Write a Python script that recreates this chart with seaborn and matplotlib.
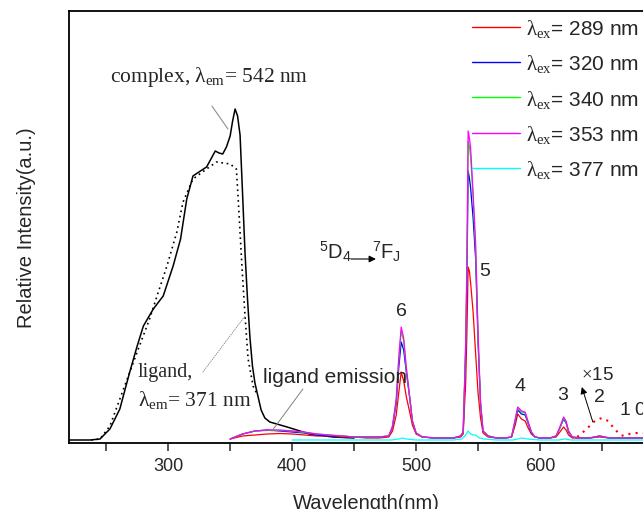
import matplotlib
matplotlib.use('Agg')
import matplotlib.pyplot as plt
import seaborn as sns
import pandas as pd
from matplotlib.ticker import MultipleLocator
from matplotlib.lines import Line2D

# ---------------- data ----------------
# excitation spectra
ex_wl = [220, 230, 237, 245, 253, 261, 269, 275, 280, 288, 296, 304, 310, 315, 320, 326,
         331, 338, 341, 344, 347, 350, 352, 354, 356, 358, 360, 362, 364, 366, 368, 370,
         372, 375, 378, 382, 396, 414, 433, 450]
ex_complex = [3, 3, 3, 4, 14, 34, 71, 97, 117, 134, 147, 177, 204, 244, 267, 272,
              276, 292, 290, 289, 296, 307, 322, 334, 327, 308, 250, 190, 144, 105, 77, 60,
              49, 33, 25, 21, 16, 9, 6, 5]

lig_wl = [238, 245, 253, 264, 275, 285, 291, 299, 307, 312, 320, 331, 339, 350, 355,
          356.5, 359.5, 362, 364.5, 368.5, 372]
lig_ex = [3, 4, 17, 54, 91, 124, 147, 177, 211, 241, 264, 274, 281, 279, 274,
          244, 177, 127, 84, 57, 48]

# emission spectra
em_wl = [350, 360, 370, 380, 390, 400, 410, 420, 430, 440, 450, 460, 470, 478, 481, 484,
         486, 488, 490, 492, 495, 497, 500, 505, 515, 530, 536, 538, 540, 541, 542, 543,
         544, 546, 548, 550, 552, 554, 558, 565, 572, 577, 580, 582, 585, 588, 590, 593,
         596, 600, 608, 613, 616, 619, 621, 623, 626, 632, 640, 648, 656, 665, 680, 700]
em_289 = [4, 7, 8, 9, 9.5, 9, 8, 7, 7, 6, 6, 5, 5, 6, 12, 28,
          50, 71, 62, 47, 30, 18, 9, 6, 5, 5, 6, 9, 60, 110, 176, 172,
          160, 131, 90, 50, 25, 10, 6, 5, 5, 6, 18, 29, 24, 22, 16, 9,
          6, 5, 5, 6, 11, 16, 13, 8, 5, 5, 5, 6, 5, 5, 5, 5]
em_320 = [4, 9, 12, 13, 12, 11, 10, 8, 7, 7, 6, 6, 6, 7, 16, 40,
          75, 101, 93, 72, 44, 22, 10, 6, 5, 5, 7, 11, 90, 160, 272, 265,
          255, 225, 185, 100, 40, 12, 7, 5, 5, 6, 22, 33, 29, 28, 21, 10,
          6, 5, 5, 7, 15, 24, 20, 11, 6, 5, 5, 7, 5, 5, 5, 5]
em_340 = [4, 9, 12, 12.5, 12.5, 12, 10.5, 9, 8, 7, 6, 6, 6, 7, 17, 43,
          82, 112, 102, 75, 44, 22, 10, 6, 5, 5, 7, 11, 98, 175, 302, 296,
          286, 245, 195, 105, 40, 12, 7, 5, 5, 6, 23, 35, 31, 30, 22, 11,
          6, 5, 5, 7, 15, 25, 21, 12, 6, 5, 5, 7, 5, 5, 5, 5]
em_353 = [4, 9, 12, 13, 13, 12, 11, 9, 8, 7, 6, 6, 6, 7, 17, 44,
          85, 116, 105, 77, 44, 22, 10, 6, 5, 5, 7, 11, 100, 180, 312, 305,
          295, 250, 200, 110, 40, 12, 7, 5, 5, 6, 24, 36, 32, 31, 23, 11,
          6, 5, 5, 7, 16, 26, 22, 12, 6, 5, 5, 7, 5, 5, 5, 5]

cy_wl = [400, 440, 480, 486, 489, 492, 500, 530, 537, 540, 542, 544, 546, 548, 551, 555,
         565, 578, 582, 585, 590, 600, 615, 620, 625, 640, 700]
em_377 = [3, 3, 3, 4, 5, 4, 3, 3, 4, 8, 12, 9, 8, 8, 5, 4,
          3, 3, 4, 5, 4, 3, 3, 4, 3, 3, 3]

x15_wl = [630, 634, 640, 645, 650, 655, 660, 665, 668, 672, 676, 682, 690, 700]
x15_289 = [6, 10, 17, 23, 25, 22, 14, 8, 7, 9, 10, 10, 9, 8]

series_labels = ['289', '320', '340', '353', '377']
series_colors = ['#ff0000', '#0000ff', '#00ff00', '#ff00ff', '#00ffff']

# ---------------- style ----------------
sns.set_style('ticks')
plt.rcParams['font.family'] = ['Liberation Sans', 'DejaVu Sans']
plt.rcParams['mathtext.fontset'] = 'custom'
plt.rcParams['mathtext.rm'] = 'Liberation Serif'
plt.rcParams['mathtext.it'] = 'Liberation Serif'
plt.rcParams['mathtext.sf'] = 'Liberation Sans'

fig = plt.figure(figsize=(6.43, 5.10), dpi=100)
ax = fig.add_axes([69 / 643, 66 / 510, 595 / 643, 432 / 510])

# black excitation curves
sns.lineplot(x=ex_wl, y=ex_complex, ax=ax, color='black', lw=1.1, sort=False, estimator=None)
sns.lineplot(x=lig_wl, y=lig_ex, ax=ax, color='black', lw=1.2, sort=False, estimator=None,
             linestyle=(0, (1, 2.2)))

# emission curves
emis = {'289': (em_wl, em_289), '320': (em_wl, em_320), '340': (em_wl, em_340),
        '353': (em_wl, em_353), '377': (cy_wl, em_377)}
handles = []
for lab, col in zip(series_labels, series_colors):
    xw, yv = emis[lab]
    df = pd.DataFrame({'wl': xw, 'I': yv})
    sns.lineplot(data=df, x='wl', y='I', ax=ax, color=col, lw=0.9, sort=False, estimator=None)
    handles.append(Line2D([], [], color=col, lw=1.0,
                          label=r'$\lambda_{\mathrm{ex}}$= ' + lab + ' nm'))

# x15 magnified part
sns.lineplot(x=x15_wl, y=x15_289, ax=ax, color='#ff0000', lw=1.5, sort=False, estimator=None,
             linestyle=(0, (1, 2.5)))

# ---------------- axes ----------------
ax.set_xlim(220, 700)
ax.set_ylim(0, 432)
ax.xaxis.set_major_locator(MultipleLocator(100))
ax.xaxis.set_minor_locator(MultipleLocator(50))
ax.set_xticks([300, 400, 500, 600])
ax.set_yticks([])
ax.tick_params(axis='x', which='both', direction='out', length=6, width=1.1,
               labelsize=13, pad=4, top=False)
for s in ax.spines.values():
    s.set_linewidth(1.3)
    s.set_color('black')
ax.set_xlabel('Wavelength(nm)', fontsize=14.5, labelpad=14)
ax.set_ylabel('Relative Intensity(a.u.)', fontsize=14.5, labelpad=24)

leg = ax.legend(handles=handles, loc='upper left', bbox_to_anchor=(472 / 643, 1 - 18 / 510),
                bbox_transform=fig.transFigure, frameon=False, fontsize=15,
                handlelength=2.3, handletextpad=0.3, labelspacing=0.64,
                borderpad=0, borderaxespad=0)

# ---------------- annotations ----------------
ax.text(253, 367, r'complex, $\lambda_{\mathrm{em}}$= 542 nm', family='Liberation Serif',
        fontsize=15.5, va='center', ha='left')
ax.annotate('', xy=(348.2, 314), xytext=(335.3, 337),
            arrowprops=dict(arrowstyle='-', color='gray', lw=0.7, shrinkA=0, shrinkB=0))
ax.text(275.6, 71, 'ligand,', family='Liberation Serif', fontsize=14.5, va='center', ha='left')
ax.text(275.6, 44, r'$\lambda_{\mathrm{em}}$= 371 nm', family='Liberation Serif',
        fontsize=15.5, va='center', ha='left')
ax.annotate('', xy=(362, 127), xytext=(328, 71),
            arrowprops=dict(arrowstyle='-', color='gray', lw=0.6, linestyle=':',
                            shrinkA=0, shrinkB=0))
ax.text(376.5, 66, 'ligand emission', fontsize=15, va='center', ha='left')
ax.annotate('', xy=(383.7, 12), xytext=(408.7, 54),
            arrowprops=dict(arrowstyle='-', color='gray', lw=0.7, shrinkA=0, shrinkB=0))

for txt, xw, yi in [('6', 488.5, 133), ('5', 555.5, 173), ('4', 583.7, 57), ('3', 618.4, 48),
                    ('2', 648.2, 46), ('1', 668.4, 33), ('0', 680.0, 33)]:
    ax.text(xw, yi, txt, fontsize=14, ha='center', va='center')

ax.text(646.6, 68, r'$\times$15', fontsize=13.5, ha='center', va='center',
        family='Liberation Sans')
ax.annotate('', xy=(633.7, 56), xytext=(642.6, 21),
            arrowprops=dict(arrowstyle='-|>', color='black', lw=0.7, mutation_scale=10,
                            shrinkA=0, shrinkB=0))

ax.text(421.6, 192, r'$^{\mathsf{5}}$D$_{\mathsf{4}}$', fontsize=14.5, ha='left', va='center')
ax.annotate('', xy=(467.6, 184), xytext=(447.5, 184),
            arrowprops=dict(arrowstyle='-|>', color='black', lw=0.8, mutation_scale=10,
                            shrinkA=0, shrinkB=0))
ax.text(464.4, 192, r'$^{\mathsf{7}}$F$_{\mathsf{J}}$', fontsize=14.5, ha='left', va='center')

fig.savefig('out.png', dpi=100)
